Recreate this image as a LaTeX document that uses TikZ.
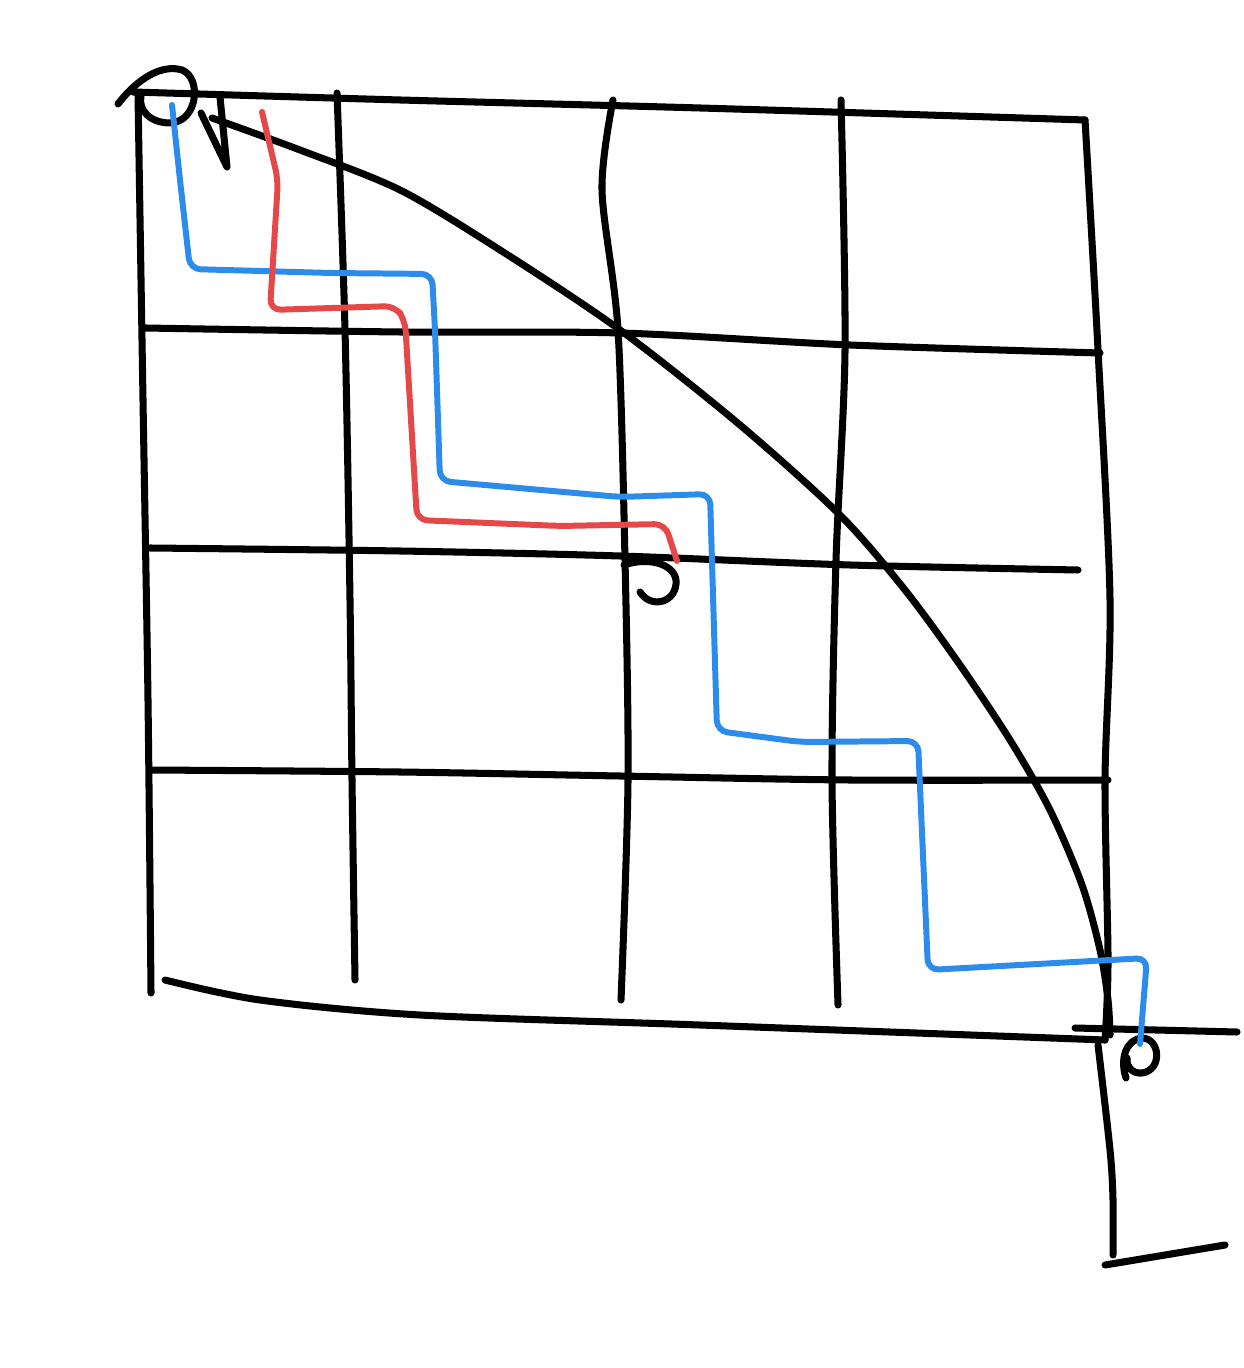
\documentclass[tikz,border=0pt]{standalone}
\usepackage{tikz}
\definecolor{penblue}{RGB}{45,140,235}
\definecolor{penred}{RGB}{228,72,72}

\begin{document}
\begin{tikzpicture}[
      x=0.01cm, y=-0.01cm,
      ink/.style={draw=black, line width=2pt, line cap=round, line join=round},
      bluepath/.style={draw=penblue, line width=1.7pt, line cap=round, rounded corners=3pt},
      redpath/.style={draw=penred, line width=1.7pt, line cap=round, rounded corners=3pt},
    ]
    \useasboundingbox (0,0) rectangle (1243,1368);

    % grid, horizontal strokes
    \draw[ink] plot[smooth] coordinates {(133,92) (400,100) (700,108) (1085,120)};
    \draw[ink] plot[smooth] coordinates {(145,328) (400,332) (620,333) (850,345) (1100,353)};
    \draw[ink] plot[smooth] coordinates {(150,548) (400,551) (620,556) (850,565) (1078,570)};
    \draw[ink] plot[smooth] coordinates {(150,770) (400,772) (620,776) (850,780) (1108,780)};
    \draw[ink] plot[smooth] coordinates {(165,980) (260,1000) (420,1015) (700,1025) (1105,1040)};
    \draw[ink] (1075,1028) -- (1237,1032);

    % grid, vertical strokes
    \draw[ink] plot[smooth] coordinates {(138,95) (143,400) (148,700) (151,993)};
    \draw[ink] plot[smooth] coordinates {(337,93) (345,330) (350,600) (352,780) (355,980)};
    \draw[ink] plot[smooth] coordinates {(613,100) (602,190) (618,330) (625,560) (628,780) (621,1000)};
    \draw[ink] plot[smooth] coordinates {(841,100) (845,350) (836,560) (832,780) (838,1005)};
    \draw[ink] plot[smooth] coordinates {(1085,120) (1098,350) (1110,600) (1105,780) (1108,960) (1105,1040)};
    \draw[ink] plot[smooth] coordinates {(1098,1045) (1110,1150) (1113,1200) (1113,1255)};
    \draw[ink] (1105,1265) -- (1225,1245);

    % diagonal curve with its start mark
    \draw[ink] plot[smooth] coordinates {(212,118) (300,150) (400,190) (500,250) (620,330)
      (740,425) (840,515) (905,590) (960,665) (1010,740) (1050,810) (1082,885) (1100,950) (1108,1000) (1110,1035)};
    \draw[ink] (201,113) -- (227,167) -- (220,97);

    % loops at start and goals
    \draw[ink] (118,104) .. controls (138,78) and (162,64) .. (182,70)
      .. controls (202,78) and (198,122) .. (170,123)
      .. controls (150,123) and (138,110) .. (141,96);
    \draw[ink] (624,565) .. controls (650,556) and (678,565) .. (676,584)
      .. controls (674,604) and (650,608) .. (640,592);
    \draw[ink] (1126,1078) .. controls (1120,1060) and (1125,1040) .. (1142,1038)
      .. controls (1160,1038) and (1163,1070) .. (1142,1073)
      .. controls (1132,1074) and (1126,1066) .. (1127,1058);

    % paths
    \draw[bluepath] (172,105) -- (180,180) -- (190,269) -- (330,273) -- (432,274)
      -- (435,330) -- (440,481) -- (620,497) -- (710,494) -- (717,731)
      -- (800,742) -- (918,741) -- (928,970) -- (1147,958) -- (1140,1044);
    \draw[redpath] (262,112) -- (278,180) -- (270,310) -- (395,306) -- (405,320)
      -- (417,520) -- (560,526) -- (665,524) -- (677,561);
  \end{tikzpicture}
\end{document}
